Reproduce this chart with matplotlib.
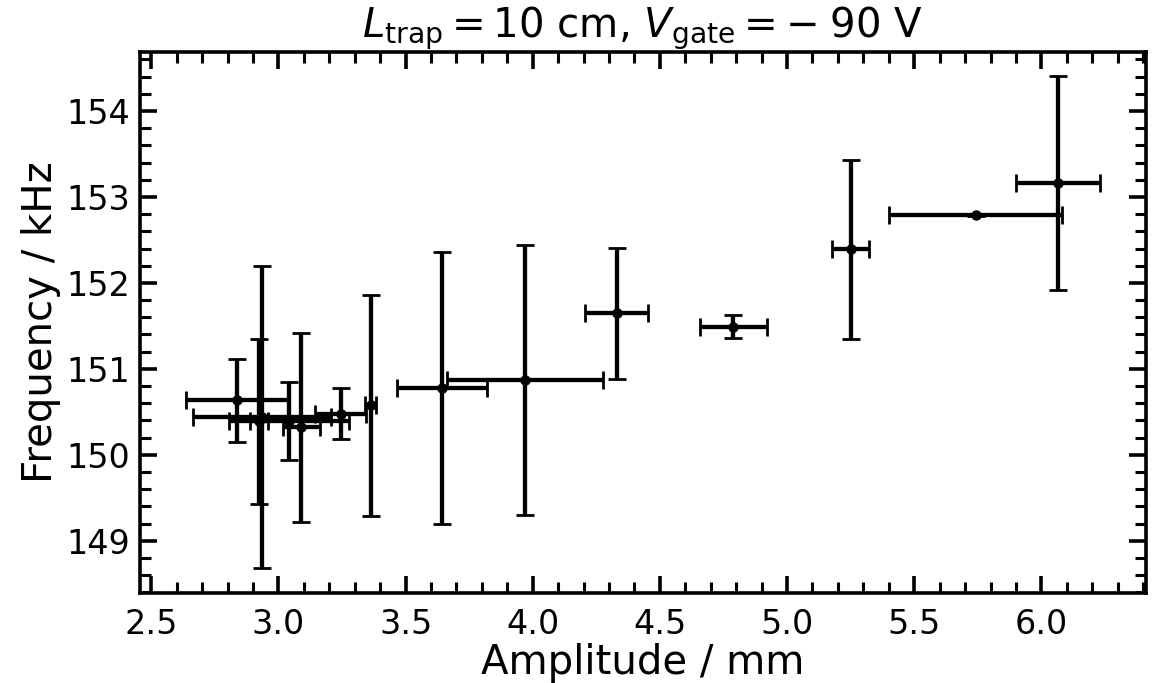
import numpy as np
import matplotlib
matplotlib.use("Agg")
import matplotlib.pyplot as plt
from matplotlib.ticker import MultipleLocator

# amplitude (mm) and frequency (kHz) with uncertainties
amplitude = [2.838, 2.935, 2.925, 3.04, 3.09, 3.245, 3.363, 3.643, 3.968, 4.33, 4.789, 5.25, 5.741, 6.065]
amplitude_err = [0.203, 0.27, 0.035, 0.236, 0.073, 0.10, 0.022, 0.178, 0.307, 0.125, 0.131, 0.072, 0.342, 0.165]
frequency = [150.634, 150.44, 150.39, 150.39, 150.32, 150.48, 150.575, 150.78, 150.875, 151.646, 151.49, 152.39, 152.787, 153.162]
frequency_err = [0.48, 1.76, 0.96, 0.456, 1.10, 0.30, 1.29, 1.58, 1.57, 0.76, 0.135, 1.04, 0.01, 1.24]

plt.rcParams['font.family'] = ['DejaVu Sans']
plt.rcParams['mathtext.fontset'] = 'dejavusans'

fig = plt.figure(figsize=(11.56, 6.83), dpi=100)
ax = fig.add_axes([0.121, 0.132, 0.870, 0.792])

ax.errorbar(amplitude, frequency, xerr=amplitude_err, yerr=frequency_err,
            fmt='o', color='black', markersize=6.5, elinewidth=3.1,
            capsize=6.5, capthick=2)

ax.set_xlabel('Amplitude / mm', fontsize=29, labelpad=1)
ax.set_ylabel('Frequency / kHz', fontsize=29, labelpad=4)
ax.set_title(r'$L_\mathrm{trap} = 10$ cm, $V_\mathrm{gate} = -\;90$ V', fontsize=29, pad=5)

ax.xaxis.set_major_locator(MultipleLocator(0.5))
ax.xaxis.set_minor_locator(MultipleLocator(0.1))
ax.yaxis.set_major_locator(MultipleLocator(1))
ax.yaxis.set_minor_locator(MultipleLocator(0.2))

ax.tick_params(which='both', direction='in', top=True, right=True, labelsize=24)
ax.tick_params(which='major', length=12, width=2.6)
ax.tick_params(which='minor', length=8, width=2.2)
ax.tick_params(axis='x', which='major', pad=11)
ax.tick_params(axis='y', which='major', pad=7)
for s in ax.spines.values():
    s.set_linewidth(2.6)

fig.savefig('out.png', dpi=100)
